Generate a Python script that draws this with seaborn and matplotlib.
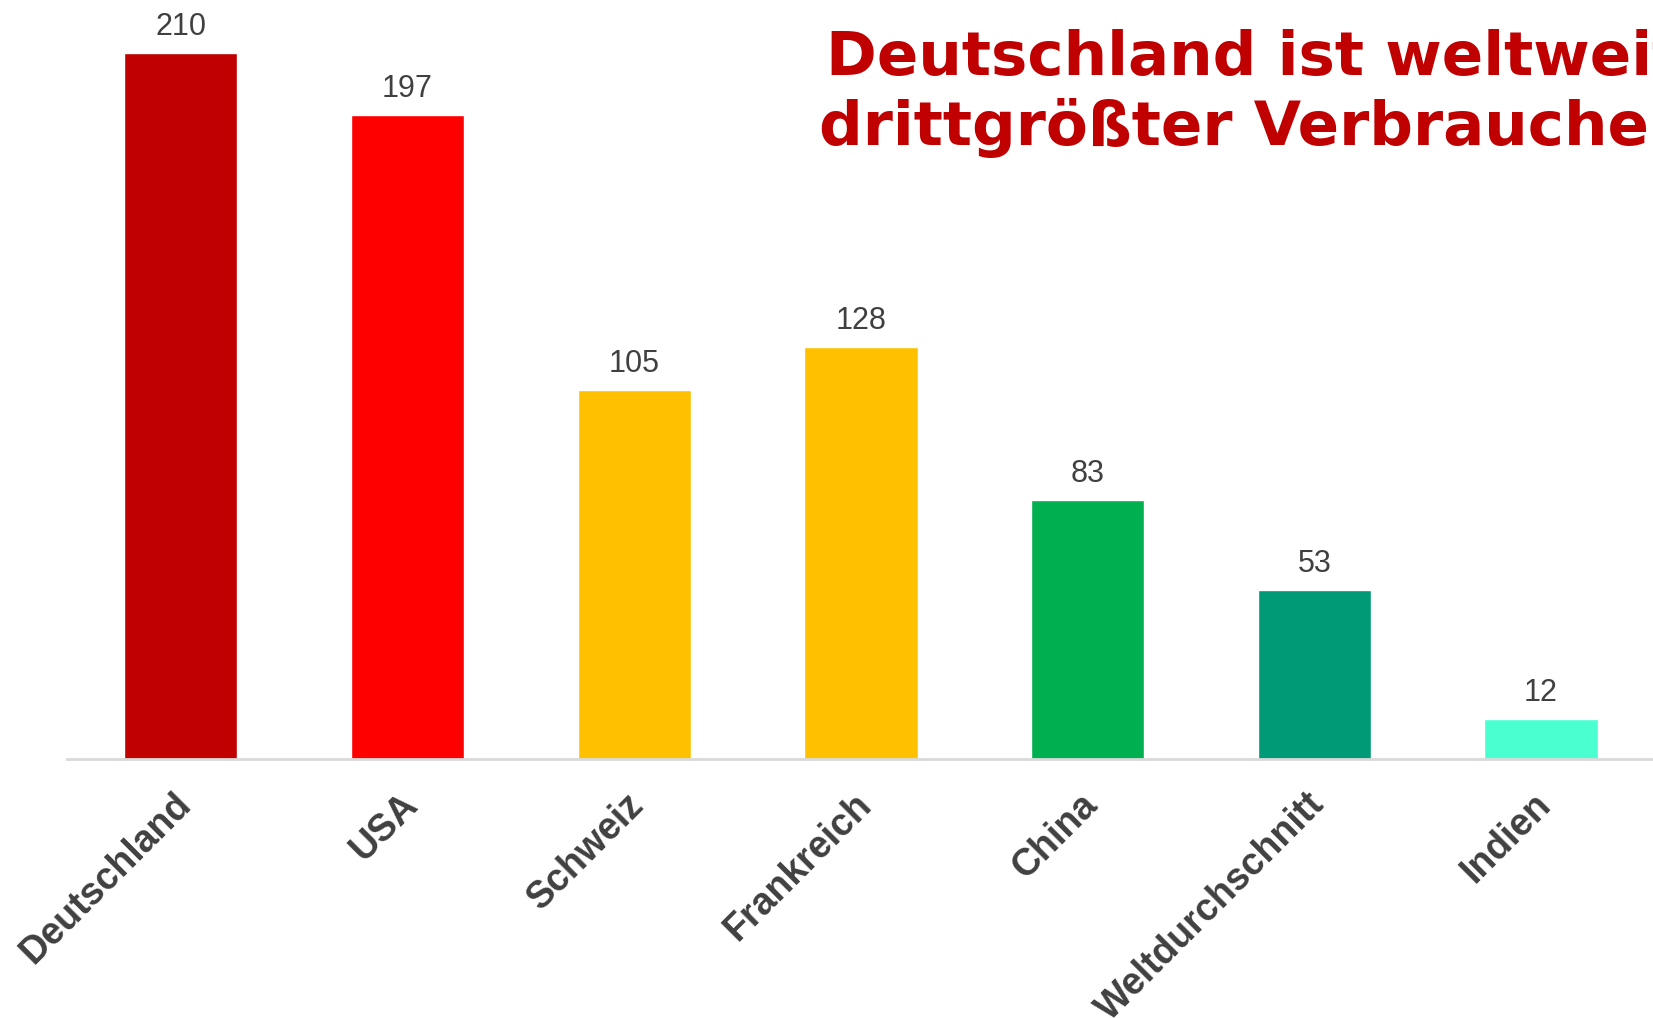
import pandas as pd
import matplotlib.pyplot as plt
import matplotlib.transforms as mtransforms
import seaborn as sns

# Verbrauch je Land (Balkenhöhen wie im Bild, Beschriftung wie angegeben)
laender = ['Deutschland', 'USA', 'Schweiz', 'Frankreich', 'China', 'Weltdurchschnitt', 'Indien']
werte = [210, 191.5, 109.7, 122.5, 77, 50.2, 11.8]
beschriftung = ['210', '197', '105', '128', '83', '53', '12']
farben = ['#C00000', '#FF0000', '#FFC000', '#FFC000', '#00B050', '#009A76', '#4AFFD0']

titel_zeile1 = 'Deutschland ist weltweit'
titel_zeile2 = 'drittgrößter Verbraucher'

df = pd.DataFrame({'land': laender, 'wert': werte})

sns.set_theme(style='white')
plt.rcParams['font.family'] = ['Liberation Sans', 'DejaVu Sans']

fig = plt.figure(figsize=(16.53, 10.18), dpi=100)
ax = fig.add_axes([0.0408, 0.2549, 0.96, 0.7451])

sns.barplot(data=df, x='land', y='wert', hue='land', palette=farben,
            width=0.5, saturation=1, legend=False, ax=ax)

ax.set_xlim(-0.5, 6.5)
ax.set_ylim(0, 225.8)

# Werte über den Balken
for i, (v, txt) in enumerate(zip(werte, beschriftung)):
    ax.annotate(txt, (i, v), xytext=(0, 13), textcoords='offset points',
                ha='center', va='baseline', fontsize=22, color='#404040')

ax.set_xlabel('')
ax.set_ylabel('')
ax.set_yticks([])
ax.tick_params(axis='x', length=0, pad=20)
ax.set_xticks(range(len(laender)))
ax.set_xticklabels(laender, rotation=45, ha='right', rotation_mode='anchor',
                   fontsize=27, fontweight='bold', color='#404040')
versatz = mtransforms.ScaledTranslation(-8 / 100, 0, fig.dpi_scale_trans)
for lab in ax.get_xticklabels():
    lab.set_transform(lab.get_transform() + versatz)

for s in ['top', 'right', 'left']:
    ax.spines[s].set_visible(False)
ax.spines['bottom'].set_color('#D9D9D9')
ax.spines['bottom'].set_linewidth(2)

# Titel läuft rechts aus dem Bild hinaus (wie im Original)
fig.text(826 / 1653, 1 - 75 / 1018, titel_zeile1, fontsize=44, fontweight='bold',
         family='DejaVu Sans', color='#C00000', va='baseline', ha='left')
fig.text(819 / 1653, 1 - 145 / 1018, titel_zeile2, fontsize=44, fontweight='bold',
         family='DejaVu Sans', color='#C00000', va='baseline', ha='left')

plt.savefig('out.png', dpi=100)
